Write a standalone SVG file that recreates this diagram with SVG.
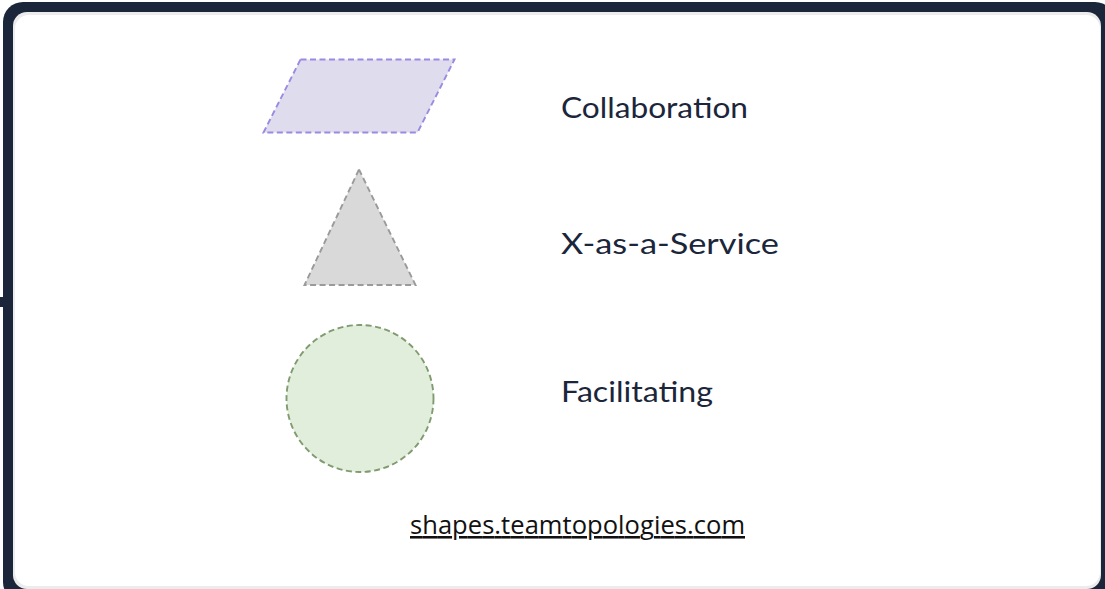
<svg xmlns="http://www.w3.org/2000/svg" width="1105" height="589" viewBox="0 0 1105 589">
<style>
.lbl{font-family:Lato,"Open Sans",sans-serif;font-size:28px;fill:#1b263b}
.shape{stroke-width:1.9;stroke-dasharray:6 3.5}
</style>
<rect x="0" y="0" width="1105" height="589" fill="#ffffff"/>
<rect x="0" y="297" width="6" height="10" fill="#1b263b"/>
<rect x="3" y="2" width="1112" height="600" rx="20" fill="#1b263b"/>
<rect x="13" y="12" width="1088" height="577" rx="14" fill="#ececec"/>
<rect x="15" y="15" width="1085" height="571" rx="14" fill="#ffffff"/>
<g id="collaboration">
<polygon class="shape" points="300.5,59.5 454.5,59.5 417.5,132.5 263.5,132.5" fill="#dfdcee" stroke="#9b89e2"/>
<text class="lbl" x="561" y="118" textLength="187" lengthAdjust="spacingAndGlyphs">Collaboration</text>
</g>
<g id="xaas">
<polygon class="shape" points="359,169.5 415.5,285 304.5,285" fill="#d9d9d9" stroke="#9a9a9a"/>
<text class="lbl" x="561" y="254" textLength="218" lengthAdjust="spacingAndGlyphs">X-as-a-Service</text>
</g>
<g id="facilitating">
<circle class="shape" cx="360" cy="398.5" r="73.5" fill="#e1eedb" stroke="#809b70"/>
<text class="lbl" x="561" y="402" textLength="152" lengthAdjust="spacingAndGlyphs">Facilitating</text>
</g>
<g id="connectors"></g>
<g id="footer">
<text x="410" y="534" font-family="'Open Sans',sans-serif" font-size="25.5" fill="#111111" textLength="335" text-decoration="underline">shapes.teamtopologies.com</text>
</g>
</svg>
